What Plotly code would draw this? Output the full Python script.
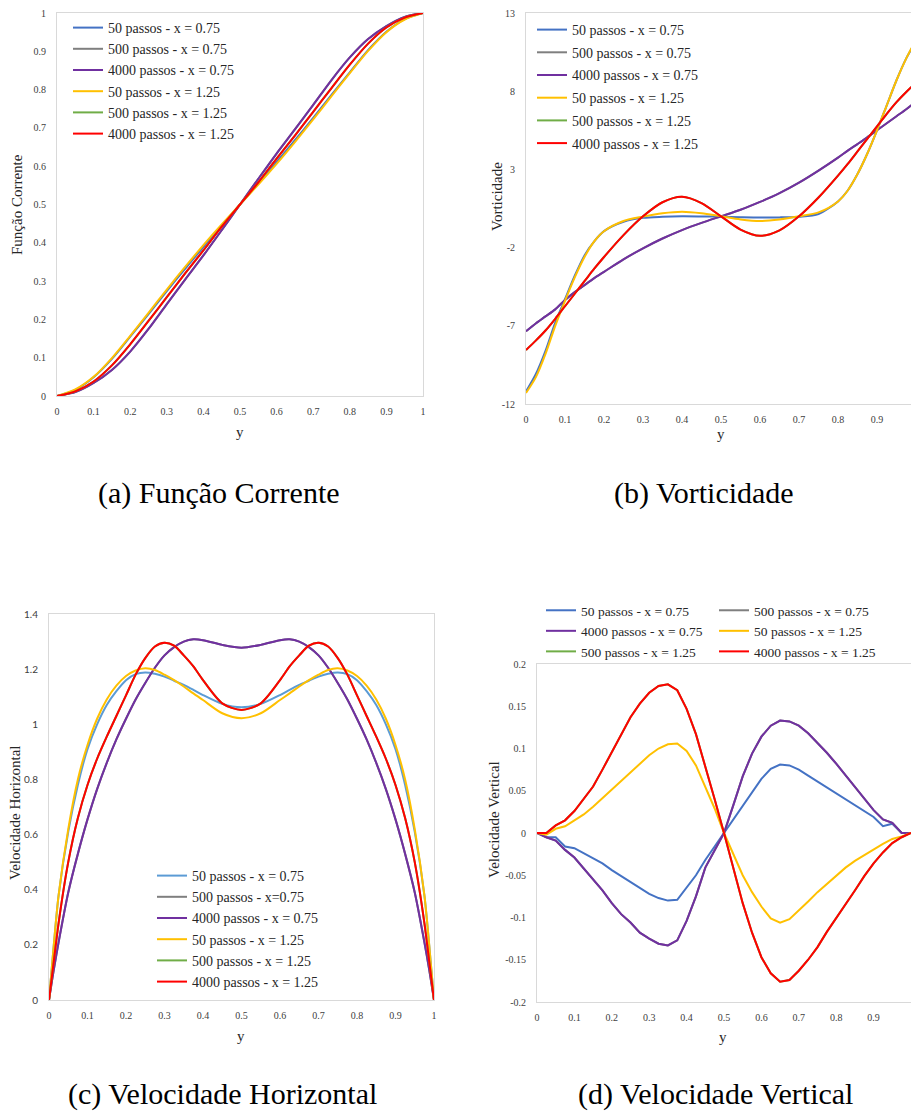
import plotly.graph_objects as go

W, H = 911, 1112
def px(x): return x / W
def py(y): return 1 - y / H

# ---------------- data ----------------
SERIES = ["50 passos - x = 0.75", "500 passos - x = 0.75", "4000 passos - x = 0.75",
          "50 passos - x = 1.25", "500 passos - x = 1.25", "4000 passos - x = 1.25"]
SERIES_C = ["50 passos - x = 0.75", "500 passos - x=0.75", "4000 passos - x = 0.75",
            "50 passos - x = 1.25", "500 passos - x = 1.25", "4000 passos - x = 1.25"]
COLORS = ["#4472C4", "#7F7F7F", "#7030A0", "#FFC000", "#70AD47", "#FF0000"]
COLORS_C = ["#5B9BD5", "#7F7F7F", "#7030A0", "#FFC000", "#70AD47", "#FF0000"]

# (a) Funcao Corrente
y_a = [0, 0.05, 0.1, 0.15, 0.2, 0.25, 0.3, 0.35, 0.4, 0.45, 0.5,
       0.55, 0.6, 0.65, 0.7, 0.75, 0.8, 0.85, 0.9, 0.95, 1.0]
psi_50_075 = [0, 0.016, 0.049, 0.097, 0.155, 0.214, 0.274, 0.332, 0.389, 0.445, 0.5,
              0.555, 0.611, 0.668, 0.726, 0.786, 0.845, 0.903, 0.951, 0.984, 1.0]
psi_500_075 = [0, 0.010, 0.034, 0.068, 0.116, 0.175, 0.240, 0.304, 0.367, 0.433, 0.5,
               0.567, 0.633, 0.696, 0.760, 0.825, 0.884, 0.932, 0.966, 0.990, 1.0]
psi_4000_075 = [0, 0.010, 0.034, 0.068, 0.116, 0.175, 0.240, 0.304, 0.367, 0.433, 0.5,
                0.567, 0.633, 0.696, 0.760, 0.825, 0.884, 0.932, 0.966, 0.990, 1.0]
psi_50_125 = [0, 0.017, 0.050, 0.099, 0.157, 0.217, 0.278, 0.337, 0.394, 0.448, 0.5,
              0.552, 0.606, 0.663, 0.722, 0.783, 0.843, 0.901, 0.950, 0.983, 1.0]
psi_500_125 = [0, 0.012, 0.038, 0.080, 0.135, 0.196, 0.258, 0.320, 0.380, 0.442, 0.5,
               0.558, 0.620, 0.680, 0.742, 0.804, 0.865, 0.920, 0.962, 0.988, 1.0]
psi_4000_125 = [0, 0.012, 0.038, 0.080, 0.135, 0.196, 0.258, 0.320, 0.380, 0.442, 0.5,
                0.558, 0.620, 0.680, 0.742, 0.804, 0.865, 0.920, 0.962, 0.988, 1.0]

# (b) Vorticidade
y_b = [0, 0.025, 0.05, 0.075, 0.1, 0.125, 0.15, 0.175, 0.2, 0.25, 0.3, 0.35, 0.4, 0.45, 0.5,
       0.55, 0.6, 0.65, 0.7, 0.75, 0.8, 0.825, 0.85, 0.875, 0.9, 0.925, 0.95, 0.975, 1.0]
w_50_075 = [-11.2, -10.1, -8.6, -6.8, -5.3, -3.8, -2.5, -1.6, -0.95, -0.35, -0.1, -0.03, 0.0, -0.01, -0.03,
            -0.06, -0.08, -0.07, -0.02, 0.15, 0.95, 1.65, 2.7, 4.0, 5.5, 7.1, 8.7, 10.1, 11.2]
w_500_075 = [-7.35, -6.85, -6.4, -5.95, -5.35, -4.85, -4.4, -3.95, -3.55, -2.75, -2.05, -1.42, -0.88, -0.42, 0.0,
             0.42, 0.92, 1.48, 2.15, 2.92, 3.75, 4.2, 4.62, 5.05, 5.5, 5.95, 6.4, 6.85, 7.35]
w_4000_075 = [-7.35, -6.85, -6.4, -5.95, -5.35, -4.85, -4.4, -3.95, -3.55, -2.75, -2.05, -1.42, -0.88, -0.42, 0.0,
              0.42, 0.92, 1.48, 2.15, 2.92, 3.75, 4.2, 4.62, 5.05, 5.5, 5.95, 6.4, 6.85, 7.35]
w_50_125 = [-11.3, -10.3, -8.8, -7.0, -5.4, -3.9, -2.6, -1.6, -0.95, -0.3, -0.02, 0.2, 0.3, 0.2, 0.0,
            -0.2, -0.3, -0.2, 0.0, 0.25, 0.95, 1.65, 2.7, 4.0, 5.5, 7.1, 8.7, 10.1, 11.3]
w_500_125 = [-8.55, -7.95, -7.3, -6.55, -5.75, -4.95, -4.15, -3.35, -2.6, -1.2, 0.0, 0.9, 1.25, 0.85, 0.0,
             -0.85, -1.25, -0.9, 0.0, 1.2, 2.6, 3.35, 4.15, 4.95, 5.75, 6.55, 7.3, 7.95, 8.55]
w_4000_125 = [-8.55, -7.95, -7.3, -6.55, -5.75, -4.95, -4.15, -3.35, -2.6, -1.2, 0.0, 0.9, 1.25, 0.85, 0.0,
              -0.85, -1.25, -0.9, 0.0, 1.2, 2.6, 3.35, 4.15, 4.95, 5.75, 6.55, 7.3, 7.95, 8.55]

# (c) Velocidade Horizontal
y_c = [0, 0.0125, 0.025, 0.05, 0.075, 0.1, 0.125, 0.15, 0.175, 0.2, 0.225, 0.25, 0.275, 0.3, 0.325,
       0.35, 0.375, 0.4, 0.45, 0.5, 0.55, 0.6, 0.625, 0.65, 0.675, 0.7, 0.725, 0.75, 0.775, 0.8,
       0.825, 0.85, 0.875, 0.9, 0.925, 0.95, 0.975, 0.9875, 1.0]
u_50_075 = [0, 0.2, 0.38, 0.61, 0.78, 0.91, 1.0, 1.07, 1.12, 1.16, 1.182, 1.188, 1.183, 1.173, 1.158,
            1.143, 1.125, 1.106, 1.074, 1.062, 1.074, 1.106, 1.125, 1.143, 1.158, 1.173, 1.183, 1.188, 1.182, 1.16,
            1.12, 1.07, 1.0, 0.91, 0.78, 0.61, 0.38, 0.2, 0]
u_500_075 = [0, 0.11, 0.21, 0.39, 0.53, 0.655, 0.765, 0.86, 0.945, 1.02, 1.09, 1.15, 1.205, 1.25, 1.28,
             1.3, 1.308, 1.305, 1.288, 1.278, 1.288, 1.305, 1.308, 1.3, 1.28, 1.25, 1.205, 1.15, 1.09, 1.02,
             0.945, 0.86, 0.765, 0.655, 0.53, 0.39, 0.21, 0.11, 0]
u_4000_075 = [0, 0.11, 0.21, 0.39, 0.53, 0.655, 0.765, 0.86, 0.945, 1.02, 1.09, 1.15, 1.205, 1.25, 1.28,
              1.3, 1.308, 1.305, 1.288, 1.278, 1.288, 1.305, 1.308, 1.3, 1.28, 1.25, 1.205, 1.15, 1.09, 1.02,
              0.945, 0.86, 0.765, 0.655, 0.53, 0.39, 0.21, 0.11, 0]
u_50_125 = [0, 0.2, 0.38, 0.62, 0.8, 0.925, 1.02, 1.09, 1.14, 1.175, 1.195, 1.203, 1.197, 1.18, 1.16,
            1.137, 1.112, 1.088, 1.04, 1.022, 1.04, 1.088, 1.112, 1.137, 1.16, 1.18, 1.197, 1.203, 1.195, 1.175,
            1.14, 1.09, 1.02, 0.925, 0.8, 0.62, 0.38, 0.2, 0]
u_500_125 = [0, 0.14, 0.28, 0.5, 0.66, 0.78, 0.875, 0.955, 1.03, 1.105, 1.18, 1.24, 1.282, 1.296, 1.285,
             1.25, 1.21, 1.16, 1.076, 1.052, 1.076, 1.16, 1.21, 1.25, 1.285, 1.296, 1.282, 1.24, 1.18, 1.105,
             1.03, 0.955, 0.875, 0.78, 0.66, 0.5, 0.28, 0.14, 0]
u_4000_125 = [0, 0.14, 0.28, 0.5, 0.66, 0.78, 0.875, 0.955, 1.03, 1.105, 1.18, 1.24, 1.282, 1.296, 1.285,
              1.25, 1.21, 1.16, 1.076, 1.052, 1.076, 1.16, 1.21, 1.25, 1.285, 1.296, 1.282, 1.24, 1.18, 1.105,
              1.03, 0.955, 0.875, 0.78, 0.66, 0.5, 0.28, 0.14, 0]

# (d) Velocidade Vertical
y_d = [0, 0.025, 0.05, 0.075, 0.1, 0.125, 0.15, 0.175, 0.2, 0.225, 0.25, 0.275, 0.3, 0.325, 0.35,
       0.375, 0.4, 0.425, 0.45, 0.475, 0.5, 0.525, 0.55, 0.575, 0.6, 0.625, 0.65, 0.675, 0.7, 0.725,
       0.75, 0.775, 0.8, 0.825, 0.85, 0.875, 0.9, 0.925, 0.95, 0.975, 1.0]
v_50_075 = [0, -0.005, -0.005, -0.016, -0.018, -0.024, -0.03, -0.036, -0.044, -0.051, -0.058, -0.065, -0.072, -0.077, -0.08,
            -0.079, -0.065, -0.05, -0.032, -0.016, 0.0, 0.015, 0.031, 0.048, 0.064, 0.076, 0.081, 0.08, 0.075, 0.068,
            0.061, 0.054, 0.047, 0.04, 0.033, 0.026, 0.019, 0.008, 0.011, 0.0, 0.0]
v_500_075 = [0, -0.005, -0.009, -0.02, -0.029, -0.042, -0.055, -0.068, -0.083, -0.096, -0.106, -0.118, -0.125, -0.131, -0.133,
             -0.127, -0.104, -0.075, -0.041, -0.02, 0.0, 0.033, 0.067, 0.094, 0.114, 0.127, 0.133, 0.132, 0.127, 0.118,
             0.107, 0.095, 0.082, 0.068, 0.055, 0.041, 0.027, 0.016, 0.012, 0.0, 0.0]
v_4000_075 = [0, -0.005, -0.009, -0.02, -0.029, -0.042, -0.055, -0.068, -0.083, -0.096, -0.106, -0.118, -0.125, -0.131, -0.133,
              -0.127, -0.104, -0.075, -0.041, -0.02, 0.0, 0.033, 0.067, 0.094, 0.114, 0.127, 0.133, 0.132, 0.127, 0.118,
              0.107, 0.095, 0.082, 0.068, 0.055, 0.041, 0.027, 0.016, 0.012, 0.0, 0.0]
v_50_125 = [0, -0.002, 0.005, 0.008, 0.015, 0.022, 0.031, 0.041, 0.051, 0.061, 0.072, 0.082, 0.092, 0.1, 0.105,
            0.106, 0.097, 0.08, 0.055, 0.029, 0.0, -0.026, -0.05, -0.07, -0.087, -0.101, -0.106, -0.102, -0.092, -0.081,
            -0.07, -0.06, -0.05, -0.041, -0.033, -0.026, -0.019, -0.013, -0.007, -0.004, 0.0]
v_500_125 = [0, 0.0, 0.009, 0.015, 0.026, 0.04, 0.055, 0.075, 0.096, 0.117, 0.137, 0.153, 0.166, 0.174, 0.176,
             0.169, 0.147, 0.117, 0.08, 0.04, 0.0, -0.042, -0.083, -0.118, -0.147, -0.166, -0.176, -0.174, -0.163, -0.15,
             -0.135, -0.117, -0.101, -0.084, -0.068, -0.051, -0.036, -0.023, -0.012, -0.005, 0.0]
v_4000_125 = [0, 0.0, 0.009, 0.015, 0.026, 0.04, 0.055, 0.075, 0.096, 0.117, 0.137, 0.153, 0.166, 0.174, 0.176,
              0.169, 0.147, 0.117, 0.08, 0.04, 0.0, -0.042, -0.083, -0.118, -0.147, -0.166, -0.176, -0.174, -0.163, -0.15,
              -0.135, -0.117, -0.101, -0.084, -0.068, -0.051, -0.036, -0.023, -0.012, -0.005, 0.0]

x_ticks_01 = [0, 0.1, 0.2, 0.3, 0.4, 0.5, 0.6, 0.7, 0.8, 0.9, 1]
x_ticktext_01 = ["0", "0.1", "0.2", "0.3", "0.4", "0.5", "0.6", "0.7", "0.8", "0.9", "1"]
b_yticks = [-12, -7, -2, 3, 8, 13]
b_yticktext = ["-12", "-7", "-2", "3", "8", "13"]
c_yticks = [0, 0.2, 0.4, 0.6, 0.8, 1.0, 1.2, 1.4]
c_yticktext = ["0", "0.2", "0.4", "0.6", "0.8", "1", "1.2", "1.4"]
d_yticks = [-0.2, -0.15, -0.1, -0.05, 0, 0.05, 0.1, 0.15, 0.2]
d_yticktext = ["-0.2", "-0.15", "-0.1", "-0.05", "0", "0.05", "0.1", "0.15", "0.2"]

CAPTIONS = ["(a) Função Corrente", "(b) Vorticidade", "(c) Velocidade Horizontal", "(d) Velocidade Vertical"]
YTITLES = ["Função Corrente", "Vorticidade", "Velocidade Horizontal", "Velocidade Vertical"]

SERIF = "Liberation Serif"
fig = go.Figure()

panels = [
    ("x", "y", y_a, [psi_50_075, psi_500_075, psi_4000_075, psi_50_125, psi_500_125, psi_4000_125],
     SERIES, COLORS, "spline", ["legend"] * 6),
    ("x2", "y2", y_b, [w_50_075, w_500_075, w_4000_075, w_50_125, w_500_125, w_4000_125],
     SERIES, COLORS, "spline", ["legend2"] * 6),
    ("x3", "y3", y_c, [u_50_075, u_500_075, u_4000_075, u_50_125, u_500_125, u_4000_125],
     SERIES_C, COLORS_C, "spline", ["legend3"] * 6),
    ("x4", "y4", y_d, [v_50_075, v_500_075, v_4000_075, v_50_125, v_500_125, v_4000_125],
     SERIES, COLORS, "linear", ["legend4", "legend5", "legend4", "legend5", "legend4", "legend5"]),
]
for pi, (xa, ya, xs, ys_list, names, cols, shape, legs) in enumerate(panels):
    for i, ys in enumerate(ys_list):
        line = dict(color=cols[i], width=2, shape=shape)
        if shape == "spline":
            line["smoothing"] = 0.8
        kw = {}
        if pi == 1:
            kw["legendgroup"] = "b%d" % i
        fig.add_trace(go.Scatter(x=xs, y=ys, mode="lines", name=names[i], line=line,
                                 xaxis=xa, yaxis=ya, legend=legs[i], **kw))

tickfont = dict(family=SERIF, size=10, color="#404040")
border = dict(showline=True, mirror=True, linecolor="#d9d9d9", linewidth=1,
              showgrid=False, zeroline=False, ticks="")

def xax(dom, rng, anchor, tv=x_ticks_01, tt=x_ticktext_01):
    return dict(domain=dom, range=rng, anchor=anchor, tickvals=tv, ticktext=tt,
                tickfont=tickfont, ticklabelstandoff=6, **border)

def yax(dom, rng, anchor, tv, tt, font=tickfont):
    return dict(domain=dom, range=rng, anchor=anchor, tickvals=tv, ticktext=tt,
                tickfont=font, ticklabelstandoff=8, **border)

a_ticks = [0, 0.1, 0.2, 0.3, 0.4, 0.5, 0.6, 0.7, 0.8, 0.9, 1]
fig.update_layout(
    xaxis=xax([px(57), px(423)], [0, 1], "y"),
    yaxis=yax([py(396), py(13)], [0, 1], "x", a_ticks, x_ticktext_01),
    xaxis2=xax([px(526), 1.0], [0, (911 - 526) / 390.0], "y2"),
    yaxis2=yax([py(404), py(13)], [-12, 13], "x2", b_yticks, b_yticktext),
    xaxis3=xax([px(49), px(434)], [0, 1], "y3"),
    yaxis3=yax([py(1000), py(614)], [0, 1.4], "x3", c_yticks, c_yticktext,
               font=dict(family="Lato", size=10, color="#404040")),
    xaxis4=xax([px(537), 1.0], [0, 1], "y4"),
    yaxis4=yax([py(1002), py(664)], [-0.2, 0.2], "x4", d_yticks, d_yticktext),
)

def leg(x, y, size=14, gap=0):
    return dict(x=px(x), y=py(y), xanchor="left", yanchor="top", bgcolor="rgba(0,0,0,0)",
                font=dict(family=SERIF, size=size, color="#262626"), tracegroupgap=gap,
                orientation="v", itemclick=False)

fig.update_layout(
    legend=leg(68, 12),
    legend2=leg(532, 14, gap=1.5),
    legend3=leg(152, 860),
    legend4=leg(541, 595, size=13.5),
    legend5=leg(714, 595, size=13.5),
)

ann = []
cap_pos = [(219, 493), (704, 493), (222, 1094), (715, 1094)]
for t, (cx, cy) in zip(CAPTIONS, cap_pos):
    ann.append(dict(text=t, x=px(cx), y=py(cy), xref="paper", yref="paper", xanchor="center",
                    yanchor="middle", showarrow=False, font=dict(family=SERIF, size=30, color="#000")))
ytitle_pos = [(17, 205), (497, 197), (15, 813), (494, 820)]
for t, (cx, cy) in zip(YTITLES, ytitle_pos):
    ann.append(dict(text=t, x=px(cx), y=py(cy), xref="paper", yref="paper", xanchor="center",
                    yanchor="middle", showarrow=False, textangle=-90,
                    font=dict(family=SERIF, size=15, color="#262626")))
ylab_pos = [(240, 432), (721, 434), (241, 1036), (723, 1037)]
for (cx, cy) in ylab_pos:
    ann.append(dict(text="y", x=px(cx), y=py(cy), xref="paper", yref="paper", xanchor="center",
                    yanchor="middle", showarrow=False, font=dict(family=SERIF, size=15, color="#262626")))

fig.update_layout(
    width=W, height=H, margin=dict(l=0, r=0, t=0, b=0, autoexpand=False),
    paper_bgcolor="white", plot_bgcolor="white", annotations=ann, showlegend=True,
)

fig.write_html("out.html", config={"displayModeBar": False})
